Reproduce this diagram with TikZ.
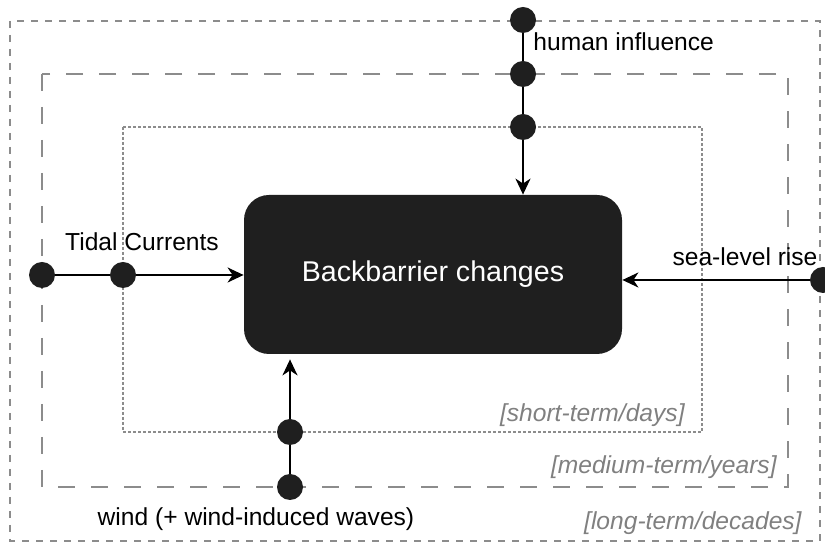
\documentclass[tikz,border=0pt]{standalone}
\usepackage{fontspec}
\setmainfont{Liberation Sans}
\usetikzlibrary{arrows.meta}

\begin{document}
\begin{tikzpicture}[x=0.5pt,y=-0.5pt,
  dot/.style={circle,fill=black!88,inner sep=0pt,minimum size=13pt},
  frame/.style={black!45,line width=1pt},
  lbl/.style={inner sep=0pt,font=\fontsize{12.3}{14}\selectfont},
  tag/.style={lbl,anchor=east,text=black!50,font=\itshape\fontsize{12.3}{14}\selectfont},
  link/.style={line width=1pt},
  flow/.style={link,-{Stealth[length=8pt,width=7.5pt,inset=2.5pt]}}]
  \useasboundingbox (0,0) rectangle (825,544);

  % time-scale frames
  \draw[frame,dash pattern=on 3.5pt off 3.5pt] (10,21) rectangle (820,541);
  \draw[frame,line width=1.2pt,dash pattern=on 8.5pt off 8pt] (42,74) rectangle (788,487);
  \draw[frame,line width=0.8pt,dash pattern=on 1.5pt off 1pt] (123,127) rectangle (702,432);
  \node[tag] (short) at (685,415) {[short-term/days]};
  \node[tag] (medium) at (777,467) {[medium-term/years]};
  \node[tag] (long) at (802,523) {[long-term/decades]};

  \node[fill=black!88,rounded corners=12.5pt,minimum width=189pt,minimum height=79.5pt,
    text=white,font=\fontsize{14.3}{16}\selectfont] (bb) at (433,274.5) {Backbarrier changes};

  % drivers
  \foreach \n/\y in {h1/20,h2/74,h3/127}
    \node[dot] (\n) at (523,\y) {};
  \foreach \n/\x in {t1/42,t2/123}
    \node[dot] (\n) at (\x,275) {};
  \foreach \n/\y in {w1/487,w2/432}
    \node[dot] (\n) at (290,\y) {};
  \node[dot] (s1) at (823,280) {};

  \draw[link] (h1) -- (h2) -- (h3);
  \draw[flow] (h3) -- (h3 |- bb.north);
  \draw[link] (t1) -- (t2);
  \draw[flow] (t2) -- (t2 -| bb.west);
  \draw[link] (w1) -- (w2);
  \draw[flow,shorten >=2.5pt] (w2) -- (w2 |- bb.south);
  \draw[flow] (s1) -- (s1 -| bb.east);

  \node[lbl,anchor=west] (human) at (533,42) {human influence};
  \node[lbl] (tidal) at (142,242) {Tidal Currents};
  \node[lbl] (sea) at (745,257) {sea-level rise};
  \node[lbl] (wind) at (256,519) {wind (+ wind-induced waves)};
\end{tikzpicture}
\end{document}
